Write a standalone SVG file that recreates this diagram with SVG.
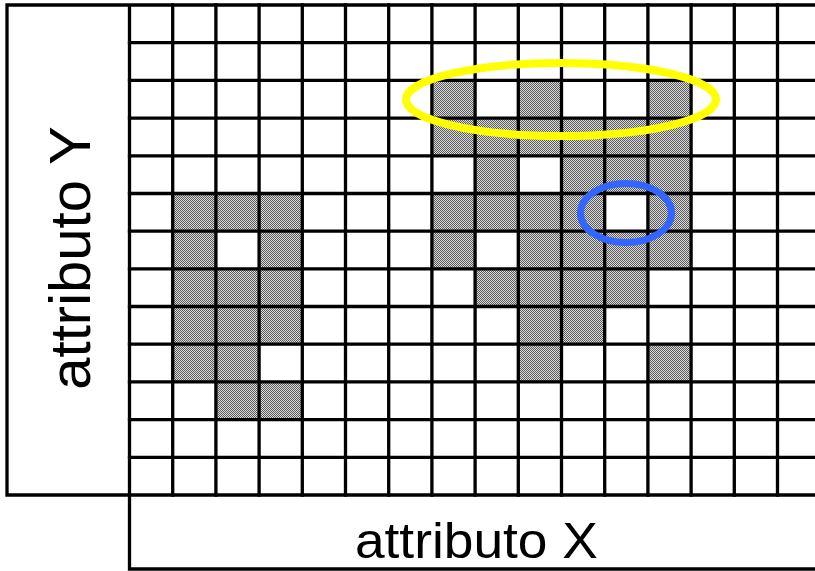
<svg xmlns="http://www.w3.org/2000/svg" width="815" height="571" viewBox="0 0 815 571">
  <defs>
    <pattern id="dither" width="2" height="2" patternUnits="userSpaceOnUse">
      <rect width="2" height="2" fill="#dcdcdc"/>
      <rect width="1" height="1" fill="#5a5a5a"/>
      <rect x="1" y="1" width="1" height="1" fill="#5a5a5a"/>
    </pattern>
    <style>
      .cell { fill: url(#dither); }
      .grid { fill: none; stroke: #000; stroke-width: 3.3; stroke-linecap: square; }
      .label { font-family: "Liberation Sans", Arial, sans-serif; fill: #000; }
      .ring { fill: none; }
    </style>
  </defs>
  <rect width="815" height="571" fill="#fff"/>

  <g id="cells">
    <!-- left cluster -->
    <rect class="cell" x="172.7" y="193.5" width="129.6" height="37.7"/>
    <rect class="cell" x="172.7" y="231.1" width="43.2" height="37.7"/>
    <rect class="cell" x="259.1" y="231.1" width="43.2" height="37.7"/>
    <rect class="cell" x="172.7" y="268.8" width="129.6" height="75.4"/>
    <rect class="cell" x="172.7" y="344.2" width="86.4" height="37.7"/>
    <rect class="cell" x="215.9" y="381.9" width="86.4" height="37.7"/>
    <!-- right cluster -->
    <rect class="cell" x="431.9" y="80.4" width="43.2" height="37.7"/>
    <rect class="cell" x="518.3" y="80.4" width="43.2" height="37.7"/>
    <rect class="cell" x="647.9" y="80.4" width="43.2" height="37.7"/>
    <rect class="cell" x="431.9" y="118.1" width="259.2" height="37.7"/>
    <rect class="cell" x="475.1" y="155.8" width="43.2" height="37.7"/>
    <rect class="cell" x="561.5" y="155.8" width="129.6" height="37.7"/>
    <rect class="cell" x="431.9" y="193.5" width="172.8" height="37.7"/>
    <rect class="cell" x="647.9" y="193.5" width="43.2" height="37.7"/>
    <rect class="cell" x="431.9" y="231.1" width="43.2" height="37.7"/>
    <rect class="cell" x="518.3" y="231.1" width="172.8" height="37.7"/>
    <rect class="cell" x="475.1" y="268.8" width="172.8" height="37.7"/>
    <rect class="cell" x="518.3" y="306.5" width="86.4" height="37.7"/>
    <rect class="cell" x="518.3" y="344.2" width="43.2" height="37.7"/>
    <rect class="cell" x="647.9" y="344.2" width="43.2" height="37.7"/>
  </g>

  <g id="grid" class="grid">
    <path d="M7,5 H815 M7,495 H815 M7,5 V495 M129.5,5 V569 M129.5,569 H815"/>
    <path d="M129.5,42.7 H815 M129.5,80.4 H815 M129.5,118.1 H815 M129.5,155.8 H815 M129.5,193.5 H815 M129.5,231.1 H815 M129.5,268.8 H815 M129.5,306.5 H815 M129.5,344.2 H815 M129.5,381.9 H815 M129.5,419.6 H815 M129.5,457.3 H815"/>
    <path d="M172.7,5 V495 M215.9,5 V495 M259.1,5 V495 M302.3,5 V495 M345.5,5 V495 M388.7,5 V495 M431.9,5 V495 M475.1,5 V495 M518.3,5 V495 M561.5,5 V495 M604.7,5 V495 M647.9,5 V495 M691.1,5 V495 M734.3,5 V495 M777.5,5 V495"/>
  </g>

  <g id="highlights">
    <ellipse id="yellow-ring" class="ring" cx="561" cy="99.5" rx="155" ry="36.5" stroke="#ffff00" stroke-width="8"/>
    <ellipse id="blue-ring" class="ring" cx="626" cy="213" rx="45.5" ry="29.5" stroke="#3366ff" stroke-width="7"/>
  </g>

  <g id="axis-y">
    <text class="label" x="0" y="0" font-size="58" text-anchor="middle" transform="translate(90,258) rotate(-90)">attributo Y</text>
  </g>
  <g id="axis-x">
    <text class="label" x="476.4" y="557.7" font-size="50" text-anchor="middle" textLength="243" lengthAdjust="spacingAndGlyphs">attributo X</text>
  </g>
</svg>
